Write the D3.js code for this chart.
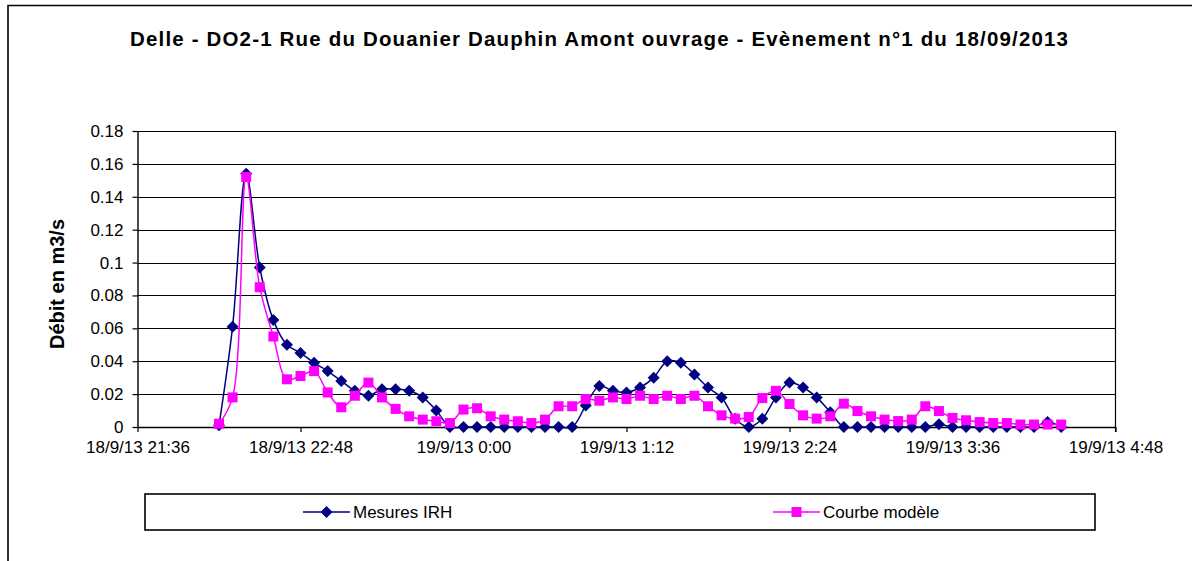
<!DOCTYPE html>
<html>
<head>
<meta charset="utf-8">
<script src="https://cdn.jsdelivr.net/npm/d3@7"></script>
<style>
  body { margin: 0; background: #fff; }
  text { font-family: Arial, "Liberation Sans", sans-serif; fill: #000; }
</style>
</head>
<body>
<svg id="chart" width="1192" height="561"></svg>
<script>
const chartTitle = "Delle - DO2-1 Rue du Douanier Dauphin Amont ouvrage - Evènement n°1 du 18/09/2013";
const yLabel = "Débit en m3/s";
const seriesNames = ["Mesures IRH", "Courbe modèle"];

// one reading every 6 minutes from 18/9/13 22:12
const firstTime = "2013-09-18 22:12";
const stepMinutes = 6;

const mesures = [0.001, 0.061, 0.154, 0.097, 0.065, 0.050, 0.045, 0.039, 0.034, 0.028, 0.022, 0.019, 0.023, 0.023, 0.022, 0.018, 0.010,
  0, 0, 0, 0, 0, 0, 0, 0, 0, 0,
  0.013, 0.025, 0.022, 0.021, 0.024, 0.030, 0.040, 0.039, 0.032, 0.024, 0.018, 0.005, 0, 0.005, 0.018, 0.027, 0.024, 0.018, 0.009,
  0, 0, 0, 0, 0, 0, 0, 0.0016, 0, 0, 0, 0, 0, 0, 0, 0.003, 0];

const modele = [0.002, 0.018, 0.152, 0.085, 0.055, 0.029, 0.031, 0.034, 0.021, 0.012, 0.019, 0.027, 0.018, 0.011, 0.0065, 0.0045, 0.0035, 0.0024,
  0.0106, 0.0114, 0.0065, 0.0045, 0.0035, 0.0024, 0.0045, 0.0126, 0.0126,
  0.017, 0.016, 0.018, 0.017, 0.019, 0.017, 0.019, 0.017, 0.019,
  0.0126, 0.0071, 0.0051, 0.0061, 0.0176, 0.022,
  0.014, 0.0071, 0.0051, 0.0065, 0.0142, 0.0097, 0.0065, 0.0045, 0.0036, 0.0045, 0.0126, 0.0097,
  0.0055, 0.0041, 0.003, 0.0024, 0.0024, 0.0015, 0.0015, 0.0015, 0.0015];

const xTickTimes = ["2013-09-18 21:36", "2013-09-18 22:48", "2013-09-19 00:00", "2013-09-19 01:12", "2013-09-19 02:24", "2013-09-19 03:36", "2013-09-19 04:48"];
const xTickLabels = ["18/9/13 21:36", "18/9/13 22:48", "19/9/13 0:00", "19/9/13 1:12", "19/9/13 2:24", "19/9/13 3:36", "19/9/13 4:48"];
const yTicks = [0, 0.02, 0.04, 0.06, 0.08, 0.1, 0.12, 0.14, 0.16, 0.18];

const parse = d3.timeParse("%Y-%m-%d %H:%M");
const t0 = parse(firstTime);
const times = mesures.map((d, i) => d3.timeMinute.offset(t0, i * stepMinutes));
const tickDates = xTickTimes.map(parse);

const margin = { top: 131, left: 137.5, right: 1115.5, bottom: 427 };
const svg = d3.select("#chart");

// outer chart frame (left and top edges visible)
svg.append("path").attr("d", "M8,561V5.5H1192").attr("fill", "none").attr("stroke", "#000").attr("stroke-width", 1.6);

const x = d3.scaleTime().domain([tickDates[0], tickDates[tickDates.length - 1]]).range([margin.left, margin.right]);
const y = d3.scaleLinear().domain([0, 0.18]).range([margin.bottom, margin.top]);

// gridlines
svg.append("g").selectAll("line").data(yTicks.slice(1)).join("line")
  .attr("x1", margin.left).attr("x2", margin.right)
  .attr("y1", d => Math.round(y(d)) + 0.5).attr("y2", d => Math.round(y(d)) + 0.5)
  .attr("stroke", "#000").attr("stroke-width", 1);

// right border of plot area
svg.append("line").attr("x1", margin.right).attr("x2", margin.right).attr("y1", margin.top).attr("y2", margin.bottom + 5)
  .attr("stroke", "#000").attr("stroke-width", 1.2);

const yAxis = svg.append("g").attr("transform", `translate(${margin.left},0)`)
  .call(d3.axisLeft(y).tickValues(yTicks).tickSize(5).tickSizeOuter(0).tickFormat(d => d3.format("")(+d.toFixed(2))));
yAxis.select(".domain").attr("stroke", "#000").attr("stroke-width", 1.4);
yAxis.selectAll(".tick line").attr("stroke", "#000").attr("stroke-width", 1.2);
yAxis.selectAll(".tick text").attr("x", -14).style("font-size", "17px").attr("fill", "#000");

const xAxis = svg.append("g").attr("transform", `translate(0,${margin.bottom})`)
  .call(d3.axisBottom(x).tickValues(tickDates).tickSize(5).tickSizeOuter(0).tickFormat((d, i) => xTickLabels[i]));
xAxis.select(".domain").attr("stroke", "#000").attr("stroke-width", 1.4);
xAxis.selectAll(".tick line").attr("stroke", "#000").attr("stroke-width", 1.2);
xAxis.selectAll(".tick text").attr("y", 14).style("font-size", "17px").attr("fill", "#000");

const series = [
  { name: seriesNames[0], values: mesures, color: "#000080", marker: "diamond" },
  { name: seriesNames[1], values: modele, color: "#FF00FF", marker: "square" }
];

const line = d3.line().x(d => x(d.t)).y(d => y(d.v)).curve(d3.curveCatmullRom.alpha(0.5));

function drawMarker(sel, type, color) {
  if (type === "diamond") {
    sel.append("path").attr("d", "M0,-6L6,0L0,6L-6,0Z").attr("fill", color);
  } else {
    sel.append("rect").attr("x", -5).attr("y", -5).attr("width", 10).attr("height", 10).attr("fill", color);
  }
}

series.forEach(s => {
  const pts = s.values.map((v, i) => ({ t: times[i], v }));
  svg.append("path").datum(pts).attr("d", line).attr("fill", "none").attr("stroke", s.color).attr("stroke-width", 1.5);
  svg.append("g").selectAll("g").data(pts).join("g")
    .attr("transform", d => `translate(${x(d.t)},${y(d.v)})`)
    .each(function () { drawMarker(d3.select(this), s.marker, s.color); });
});

// title (spread like the original rendering)
svg.append("text").attr("x", 599).attr("y", 46).attr("text-anchor", "middle")
  .attr("textLength", 938).attr("lengthAdjust", "spacing")
  .style("font-size", "20.5px").style("font-weight", "bold").text(chartTitle);

// y label
svg.append("text").attr("transform", "translate(64,284) rotate(-90)").attr("text-anchor", "middle")
  .style("font-size", "20px").style("font-weight", "bold").text(yLabel);

// legend
const legend = svg.append("g");
legend.append("rect").attr("x", 145).attr("y", 494).attr("width", 950).attr("height", 36)
  .attr("fill", "#fff").attr("stroke", "#000").attr("stroke-width", 1.6);
const legendX = [303, 773];
series.forEach((s, i) => {
  const g = legend.append("g").attr("transform", `translate(${legendX[i]},512)`);
  g.append("line").attr("x1", 0).attr("x2", 47).attr("stroke", s.color).attr("stroke-width", 1.5);
  drawMarker(g.append("g").attr("transform", "translate(23.5,0)"), s.marker, s.color);
  g.append("text").attr("x", 50).attr("dy", "0.35em").style("font-size", "17px").text(s.name);
});
</script>
</body>
</html>
